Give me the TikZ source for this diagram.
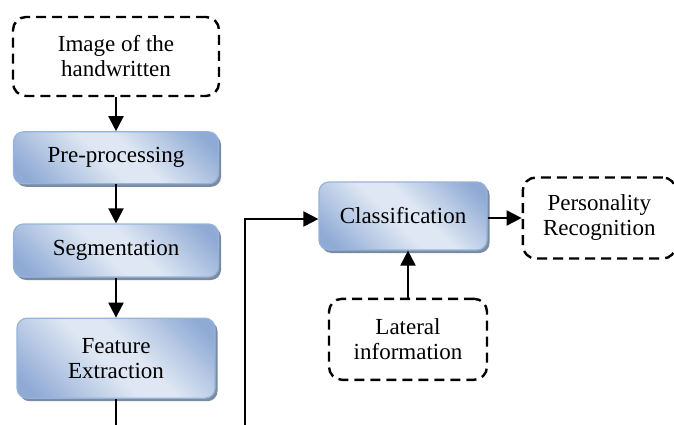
\documentclass[tikz,border=0pt]{standalone}
\usepackage{fontspec}
\setmainfont{Liberation Serif}
\usetikzlibrary{arrows.meta}
\usetikzlibrary{positioning,shadows}
\definecolor{stagedark}{RGB}{143,170,213}
\definecolor{stagelight}{RGB}{222,231,243}
\definecolor{stageedge}{RGB}{150,180,218}
\definecolor{stageshadow}{RGB}{122,140,164}
\pgfdeclareverticalshading{stagefill}{100bp}{color(0bp)=(stagedark); color(20bp)=(stagedark); color(46bp)=(stagelight); color(56bp)=(stagelight); color(80bp)=(stagedark); color(100bp)=(stagedark)}
\tikzstyle{link} = [draw, line width=2pt]
\tikzstyle{every block} = [align=center, inner sep=0pt, font=\fontsize{23}{25}\selectfont]
\tikzstyle{stage} = [rectangle, rounded corners=10pt, draw=stageedge, line width=1.2pt, shading=stagefill, shading angle=-45, drop shadow={shadow xshift=2.5pt, shadow yshift=-3pt, fill=stageshadow, opacity=1}, minimum width=205pt, minimum height=52pt, every block]
\tikzstyle{outer} = [rectangle, rounded corners=13pt, draw, line width=2.4pt, dash pattern=on 10pt off 6pt, minimum width=206pt, minimum height=79pt, every block]

\begin{document}
\begin{tikzpicture} [node distance=37pt, every edge/.style={link, {Triangle[length=15pt,width=15pt]}-}]

\useasboundingbox (0pt,0pt) rectangle (674pt,-425pt);

% Main column

\node[outer] (image) at (116pt,-56.5pt) {Image of the\\handwritten};

\node[stage] (preproc) [below=34pt of image] {Pre-processing} edge (image);

\node[stage, minimum height=53pt] (segment) [below=39pt of preproc] {Segmentation} edge (preproc);

\node[stage, minimum width=198pt, minimum height=80pt] (feature) [below=40pt of segment] {Feature\\Extraction} edge (segment);

\coordinate (featout) at (116pt,-428pt);
\draw[link] (feature) -- (featout);

% Classification

\node[stage, minimum width=168pt, minimum height=68pt] (classif) at (403pt,-216pt) {Classification};

\node[outer, minimum width=153pt, minimum height=81pt] (person) [right=34pt of classif, yshift=-2pt] {Personality\\Recognition};
\draw[link, -{Triangle[length=15pt,width=15pt]}] (classif.east |- person) -- (person);

\node[outer, minimum width=158pt, minimum height=81pt] (lateral) [below=47pt of classif, xshift=5pt] {Lateral\\information};
\draw[link, -{Triangle[length=15pt,width=15pt]}] (lateral) -- (lateral |- classif.south);

\coordinate (classin) at (245pt,-428pt);
\draw[link, -{Triangle[length=15pt,width=15pt]}] (classin) |- ([yshift=-3pt]classif.west);

\end{tikzpicture}
\end{document}
